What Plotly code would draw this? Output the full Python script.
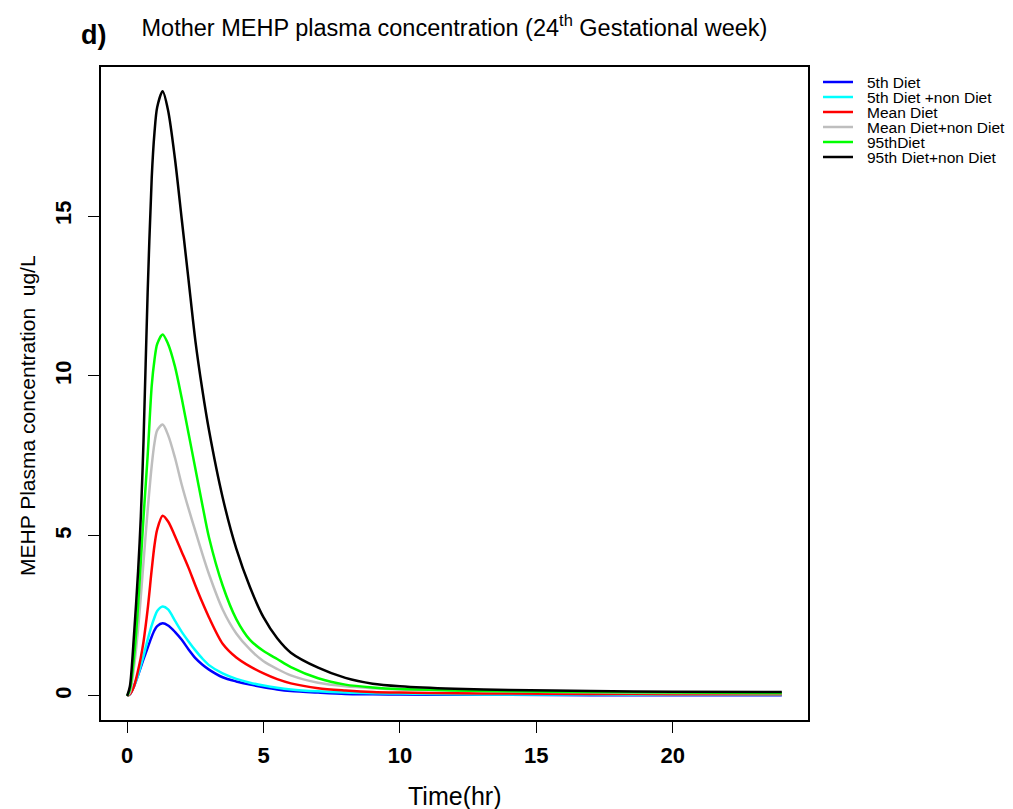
import plotly.graph_objects as go

# ---- data ----
time_hr = [0, 0.1, 0.25, 0.4, 0.5, 0.6, 0.75, 0.9, 1.0, 1.1, 1.3, 1.5, 1.75, 2.0, 2.25,
           2.5, 2.75, 3.0, 3.5, 4.0, 4.5, 5.0, 5.5, 6.0, 7.0, 8.0, 9.0, 10.0, 12.0, 14.0,
           17.0, 20.0, 24.0]

p5_diet = [0, 0.05, 0.3, 0.65, 0.9, 1.15, 1.5, 1.85, 2.05, 2.18, 2.27, 2.2, 2.0, 1.75, 1.45,
           1.18, 0.98, 0.82, 0.58, 0.45, 0.35, 0.27, 0.2, 0.15, 0.1, 0.06, 0.05, 0.04, 0.03, 0.03,
           0.02, 0.02, 0.02]
p5_diet_nondiet = [0, 0.05, 0.3, 0.65, 0.95, 1.25, 1.75, 2.2, 2.45, 2.65, 2.79, 2.7, 2.35, 2.0, 1.7,
                   1.42, 1.17, 0.96, 0.7, 0.53, 0.41, 0.32, 0.25, 0.2, 0.14, 0.1, 0.08, 0.07, 0.05, 0.04,
                   0.04, 0.03, 0.03]
mean_diet = [0, 0.05, 0.3, 0.8, 1.2, 1.7, 2.7, 3.95, 4.7, 5.2, 5.63, 5.45, 5.0, 4.5, 4.0,
             3.45, 2.93, 2.45, 1.63, 1.2, 0.92, 0.7, 0.52, 0.39, 0.24, 0.17, 0.12, 0.1, 0.08, 0.07,
             0.06, 0.05, 0.05]
mean_diet_nondiet = [0, 0.1, 0.9, 2.1, 3.1, 4.2, 5.8, 7.2, 7.9, 8.3, 8.48, 8.15, 7.45, 6.6, 5.85,
                     5.15, 4.45, 3.8, 2.7, 1.95, 1.45, 1.08, 0.84, 0.64, 0.41, 0.3, 0.24, 0.2, 0.17, 0.14,
                     0.11, 0.09, 0.08]
p95_diet = [0, 0.2, 1.2, 2.8, 4.2, 5.6, 7.5, 9.7, 10.5, 11.0, 11.3, 11.0, 10.3, 9.3, 8.2,
            7.1, 6.0, 4.95, 3.45, 2.4, 1.75, 1.4, 1.15, 0.9, 0.55, 0.35, 0.26, 0.21, 0.17, 0.14,
            0.12, 0.1, 0.09]
p95_diet_nondiet = [0, 0.3, 1.9, 3.9, 5.6, 8.0, 12.6, 16.2, 17.6, 18.4, 18.9, 18.3, 16.8, 14.9, 13.0,
                    11.1, 9.6, 8.3, 6.2, 4.6, 3.4, 2.45, 1.8, 1.35, 0.88, 0.56, 0.38, 0.3, 0.22, 0.18,
                    0.15, 0.13, 0.12]

series_names = ["5th Diet", "5th Diet +non Diet", "Mean Diet", "Mean Diet+non Diet",
                "95thDiet", "95th Diet+non Diet"]
series_values = [p5_diet, p5_diet_nondiet, mean_diet, mean_diet_nondiet, p95_diet, p95_diet_nondiet]
series_colors = ["#0000FF", "#00FFFF", "#FF0000", "#BEBEBE", "#00FF00", "#000000"]

x_ticks = [0, 5, 10, 15, 20]
y_ticks = [0, 5, 10, 15]

# ---- layout geometry (page pixels) ----
OFF = 8                      # default body margin of the html page
W, H = 1013 - OFF, 809 - OFF  # figure size so the page fits the window
L, R, T, B = 101, 808, 67, 720  # plot box in page pixels
FONT = "Liberation Sans, Arial, sans-serif"


def pxx(px):
    return (px - L) / (R - L)


def pxy(py):
    return (B - py) / (B - T)


fig = go.Figure()
for name, vals, col in zip(series_names, series_values, series_colors):
    fig.add_trace(go.Scatter(x=time_hr, y=vals, mode="lines", name=name,
                             line=dict(color=col, width=2.5, shape="spline", smoothing=0.8),
                             showlegend=False))

# compact legend drawn like the R legend
shapes = []
annotations = []
row_y0 = 82
row_dy = 15
for i, (name, col) in enumerate(zip(series_names, series_colors)):
    yy = row_y0 + i * row_dy
    shapes.append(dict(type="line", xref="paper", yref="paper",
                       x0=pxx(823), x1=pxx(853), y0=pxy(yy), y1=pxy(yy),
                       line=dict(color=col, width=2.5)))
    annotations.append(dict(text=name, xref="paper", yref="paper", x=pxx(865), y=pxy(yy),
                            xanchor="left", yanchor="middle", showarrow=False,
                            font=dict(family=FONT, size=15.5, color="black")))

annotations.append(dict(text="<b>d)</b>", xref="paper", yref="paper", x=pxx(93), y=pxy(35),
                        xanchor="center", yanchor="middle", showarrow=False,
                        font=dict(family=FONT, size=27, color="black")))
annotations.append(dict(text="Time(hr)", xref="paper", yref="paper", x=0.5, y=pxy(796),
                        xanchor="center", yanchor="middle", showarrow=False,
                        font=dict(family=FONT, size=25, color="black")))
annotations.append(dict(text="MEHP Plasma concentration  ug/L", xref="paper", yref="paper",
                        x=pxx(27), y=pxy(416), textangle=-90,
                        xanchor="center", yanchor="middle", showarrow=False,
                        font=dict(family=FONT, size=21, color="black")))

fig.update_layout(
    width=W, height=H,
    margin=dict(l=L - OFF, r=(OFF + W) - R, t=T - OFF, b=(OFF + H) - B, pad=0),
    paper_bgcolor="white", plot_bgcolor="white",
    title=dict(text="Mother MEHP plasma concentration (24<sup>th</sup> Gestational week)",
               x=0.5, xref="paper", y=1 - (28 - OFF) / H, yref="container",
               xanchor="center", yanchor="middle",
               font=dict(family=FONT, size=23.5, color="black")),
    shapes=shapes, annotations=annotations,
    showlegend=False,
)

fig.update_xaxes(range=[-0.96, 24.96], tickvals=x_ticks, ticktext=[str(v) for v in x_ticks],
                 showgrid=False, zeroline=False, showline=True, mirror=True,
                 linecolor="black", linewidth=1.5, ticks="outside", ticklen=11,
                 tickcolor="black", tickwidth=1.2, ticklabelstandoff=4,
                 tickfont=dict(family=FONT, size=22, color="black", weight="bold"))
fig.update_yaxes(range=[-0.756, 19.66], tickvals=y_ticks, ticktext=[str(v) for v in y_ticks],
                 showgrid=False, zeroline=False, showline=True, mirror=True,
                 linecolor="black", linewidth=1.5, ticks="outside", ticklen=11,
                 tickcolor="black", tickwidth=1.2, tickangle=-90, ticklabelstandoff=8,
                 tickfont=dict(family=FONT, size=22, color="black", weight="bold"))

fig.write_html("out.html")
